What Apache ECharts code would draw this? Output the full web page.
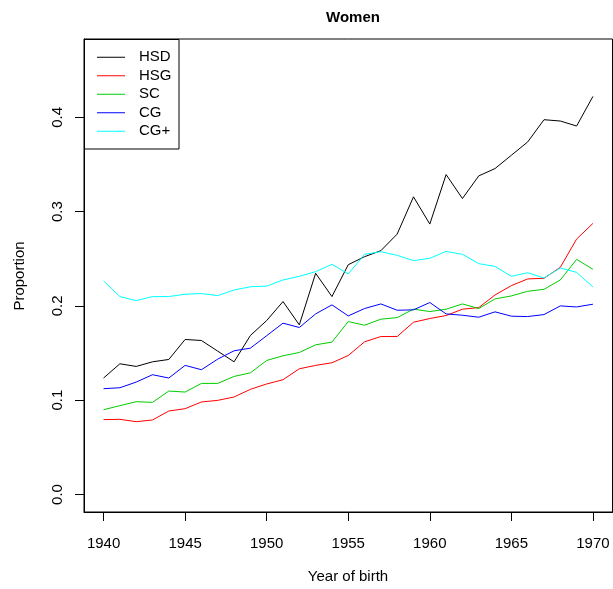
<!DOCTYPE html>
<html>
<head>
<meta charset="utf-8">
<script src="https://cdn.jsdelivr.net/npm/echarts@6/dist/echarts.min.js"></script>
<style>
  html, body { margin: 0; padding: 0; background: #fff; }
  #chart { width: 613px; height: 589px; }
</style>
</head>
<body>
<div id="chart"></div>
<script>
// Birth cohorts
const years = [1940, 1941, 1942, 1943, 1944, 1945, 1946, 1947, 1948, 1949,
               1950, 1951, 1952, 1953, 1954, 1955, 1956, 1957, 1958, 1959,
               1960, 1961, 1962, 1963, 1964, 1965, 1966, 1967, 1968, 1969, 1970];

// Share of women in each education group, by year of birth
const HSD = [0.1235, 0.1386, 0.1358, 0.1407, 0.1432, 0.1644, 0.1633, 0.1520, 0.1407, 0.1686,
             0.1845, 0.2046, 0.1799, 0.2346, 0.2099, 0.2437, 0.2522, 0.2586, 0.2762, 0.3157,
             0.2868, 0.3393, 0.3139, 0.3379, 0.3457, 0.3598, 0.3739, 0.3975, 0.3961, 0.3908, 0.4222];
const HSG = [0.0794, 0.0797, 0.0772, 0.0790, 0.0885, 0.0910, 0.0981, 0.0998, 0.1034, 0.1115,
             0.1172, 0.1217, 0.1333, 0.1369, 0.1397, 0.1474, 0.1619, 0.1675, 0.1675, 0.1827,
             0.1866, 0.1898, 0.1965, 0.1982, 0.2116, 0.2215, 0.2286, 0.2293, 0.2409, 0.2709, 0.2875];
const SC  = [0.0899, 0.0942, 0.0984, 0.0977, 0.1097, 0.1086, 0.1178, 0.1178, 0.1252, 0.1290,
             0.1421, 0.1471, 0.1506, 0.1587, 0.1616, 0.1834, 0.1795, 0.1859, 0.1876, 0.1966,
             0.1940, 0.1965, 0.2021, 0.1972, 0.2074, 0.2106, 0.2155, 0.2176, 0.2275, 0.2494, 0.2388];
const CG  = [0.1122, 0.1132, 0.1192, 0.1270, 0.1235, 0.1369, 0.1323, 0.1436, 0.1524, 0.1552,
             0.1684, 0.1817, 0.1771, 0.1915, 0.2011, 0.1894, 0.1972, 0.2021, 0.1954, 0.1958,
             0.2036, 0.1915, 0.1901, 0.1880, 0.1937, 0.1891, 0.1887, 0.1908, 0.2000, 0.1989, 0.2018];
const CGplus = [0.2265, 0.2099, 0.2056, 0.2099, 0.2099, 0.2124, 0.2131, 0.2109, 0.2169, 0.2203,
                0.2210, 0.2275, 0.2314, 0.2363, 0.2441, 0.2339, 0.2547, 0.2575, 0.2536, 0.2480,
                0.2505, 0.2578, 0.2547, 0.2448, 0.2419, 0.2314, 0.2352, 0.2296, 0.2402, 0.2356, 0.2201];

const seriesNames = ['HSD', 'HSG', 'SC', 'CG', 'CG+'];
const seriesValues = [HSD, HSG, SC, CG, CGplus];
const seriesColors = ['#000000', '#FF0000', '#00CD00', '#0000FF', '#00FFFF'];

const xTicks = [1940, 1945, 1950, 1955, 1960, 1965, 1970];
const yTicks = [0, 0.1, 0.2, 0.3, 0.4];

const FONT = 'Liberation Sans, Arial, Helvetica, sans-serif';

const chart = echarts.init(document.getElementById('chart'), null, { renderer: 'canvas' });

const series = seriesNames.map((name, i) => ({
  name: name,
  type: 'line',
  data: years.map((y, j) => [y, seriesValues[i][j]]),
  showSymbol: false,
  symbol: 'none',
  lineStyle: { color: seriesColors[i], width: 1 },
  itemStyle: { color: seriesColors[i] },
  emphasis: { disabled: true },
  silent: true
}));

chart.setOption({
  animation: false,
  backgroundColor: '#ffffff',
  title: {
    text: 'Women',
    left: 348,
    top: 5,
    textAlign: 'center',
    textStyle: { fontFamily: FONT, fontSize: 15, fontWeight: 'bold', color: '#000' }
  },
  grid: {
    left: 84, top: 39, right: 0.5, bottom: 77,
    show: true, borderColor: '#000', borderWidth: 1, backgroundColor: 'transparent'
  },
  legend: {
    data: seriesNames,
    orient: 'vertical',
    left: 97,
    top: 48,
    padding: 0,
    itemGap: 0,
    itemWidth: 28,
    itemHeight: 1,
    icon: 'rect',
    selectedMode: false,
    textStyle: {
      fontFamily: FONT, fontSize: 15, color: '#000',
      lineHeight: 18.5, padding: [0, 0, 0, 9]
    }
  },
  xAxis: {
    type: 'value',
    min: 1938.8,
    max: 1971.2,
    axisLine: { show: true, onZero: false, lineStyle: { color: '#000', width: 1 } },
    axisTick: { show: true, inside: false, length: 9, customValues: xTicks,
                lineStyle: { color: '#000', width: 1 } },
    axisLabel: { customValues: xTicks, margin: 24, color: '#000',
                 fontFamily: FONT, fontSize: 15, formatter: v => String(v) },
    splitLine: { show: false }
  },
  yAxis: {
    type: 'value',
    min: -0.0186,
    max: 0.4831,
    axisLine: { show: true, onZero: false, lineStyle: { color: '#000', width: 1 } },
    axisTick: { show: true, inside: false, length: 9, customValues: yTicks,
                lineStyle: { color: '#000', width: 1 } },
    axisLabel: { customValues: yTicks, margin: 19, rotate: 90, color: '#000',
                 fontFamily: FONT, fontSize: 15, formatter: v => v.toFixed(1) },
    splitLine: { show: false }
  },
  graphic: [
    {
      type: 'rect',
      shape: { x: 84.5, y: 39.5, width: 94.5, height: 109.5 },
      style: { fill: 'transparent', stroke: '#000', lineWidth: 1 },
      z: 10, silent: true
    },
    {
      type: 'text',
      x: 348, y: 577,
      style: { text: 'Year of birth', font: '15px ' + FONT, fill: '#000',
               textAlign: 'center', textVerticalAlign: 'middle' },
      silent: true
    },
    {
      type: 'text',
      x: 20, y: 276,
      rotation: Math.PI / 2,
      style: { text: 'Proportion', font: '15px ' + FONT, fill: '#000',
               textAlign: 'center', textVerticalAlign: 'middle' },
      silent: true
    }
  ],
  series: series
});
</script>
</body>
</html>
